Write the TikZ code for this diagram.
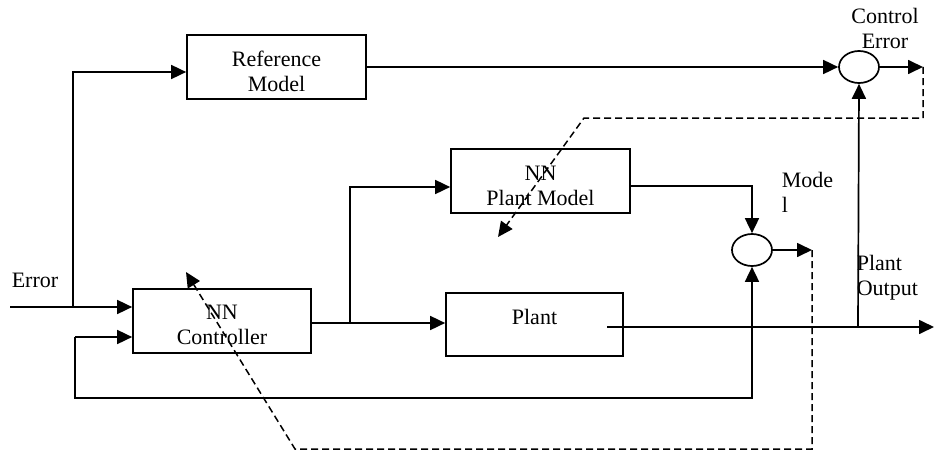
\documentclass[tikz,border=0pt]{standalone}
\usepackage{fontspec}
\setmainfont{Liberation Serif}
\usetikzlibrary{arrows.meta,shapes.geometric}
\begin{document}
\begin{tikzpicture}[x=1pt,y=-1pt,
  line width=1.7pt,
  tip/.style={-{Triangle[length=15pt,width=14pt]}},
  blk/.style={draw,rectangle,inner sep=0pt},
  sumnode/.style={draw,ellipse,inner sep=0pt,minimum width=40pt,minimum height=32pt},
  txt/.style={font=\fontsize{22}{25}\selectfont,align=center,inner sep=0pt},
  dsh/.style={line width=1.5pt,dash pattern=on 7pt off 4pt}]
\useasboundingbox (0,0) rectangle (934,452);
% blocks
\node[blk,minimum width=179pt,minimum height=64pt] (ref) at (276.5,67) {};
\node[txt] (reft) at (276.5,71) {Reference\\Model};
\node[blk,minimum width=178pt,minimum height=64pt] (nnc) at (222,321) {};
\node[txt] (nnct) at (222,325) {NN\\Controller};
\node[blk,minimum width=179pt,minimum height=64pt] (npm) at (540.5,181) {};
\node[txt] (npmt) at (540.5,185.5) {NN\\Plant Model};
\node[blk,minimum width=177pt,minimum height=63pt] (plant) at (534.5,324.5) {};
\node[txt] (plantt) at (534.5,317) {Plant};
\node[sumnode] (sumc) at (859,67) {};
\node[sumnode] (summ) at (752,250) {};
% labels
\node[txt] (errl) at (35,280) {Error};
\node[txt] (cel) at (885,28) {Control\\Error};
\node[txt,anchor=west,align=left] (modl) at (781,192.5) {Mode\\l};
\node[txt,anchor=west,align=left] (pol) at (856,277.5) {Plant\\Output};
% coordinates
\coordinate (errs) at (10,307);
\coordinate (j1) at (73,307);
\coordinate (j2) at (350,323);
\coordinate (ceo) at (923,67);
\coordinate (mo) at (812,250);
\coordinate (pos) at (607,327);
\coordinate (poe) at (934,327);
\coordinate (j3) at (858,327);
\coordinate (fb1) at (752,398);
\coordinate (fb2) at (75,398);
\coordinate (d1) at (923,118);
\coordinate (d2) at (584,118);
\coordinate (d3) at (498,237);
\coordinate (e1) at (812,449);
\coordinate (e2) at (295,449);
\coordinate (e3) at (186,272);
% connectors
\draw[tip] (errs) -- (nnc.west |- errs);
\draw[tip] (j1) |- (ref.west |- 0,72);
\draw[tip] (ref.east |- sumc) -- (sumc.west);
\draw[tip] (sumc.east) -- (ceo);
\draw[tip] (nnc.east |- j2) -- (plant.west |- j2);
\draw[tip] (j2) |- (npm.west |- 0,187);
\draw[tip] (npm.east |- 0,186) -| (summ.north);
\draw[tip] (summ.east) -- (mo);
\draw[tip] (pos) -- (poe);
\draw[tip] (j3) -- (sumc.south);
\draw[tip] (fb2 |- 0,337) -- (nnc.west |- 0,337);
\draw[tip] (fb2 |- 0,337) -- (fb2) -- (fb1) -- (summ.south);
% dashed feedback paths
\draw[dsh,tip] (ceo) -- (d1) -- (d2) -- (d3);
\draw[dsh,tip] (mo) -- (e1) -- (e2) -- (e3);
\end{tikzpicture}
\end{document}
